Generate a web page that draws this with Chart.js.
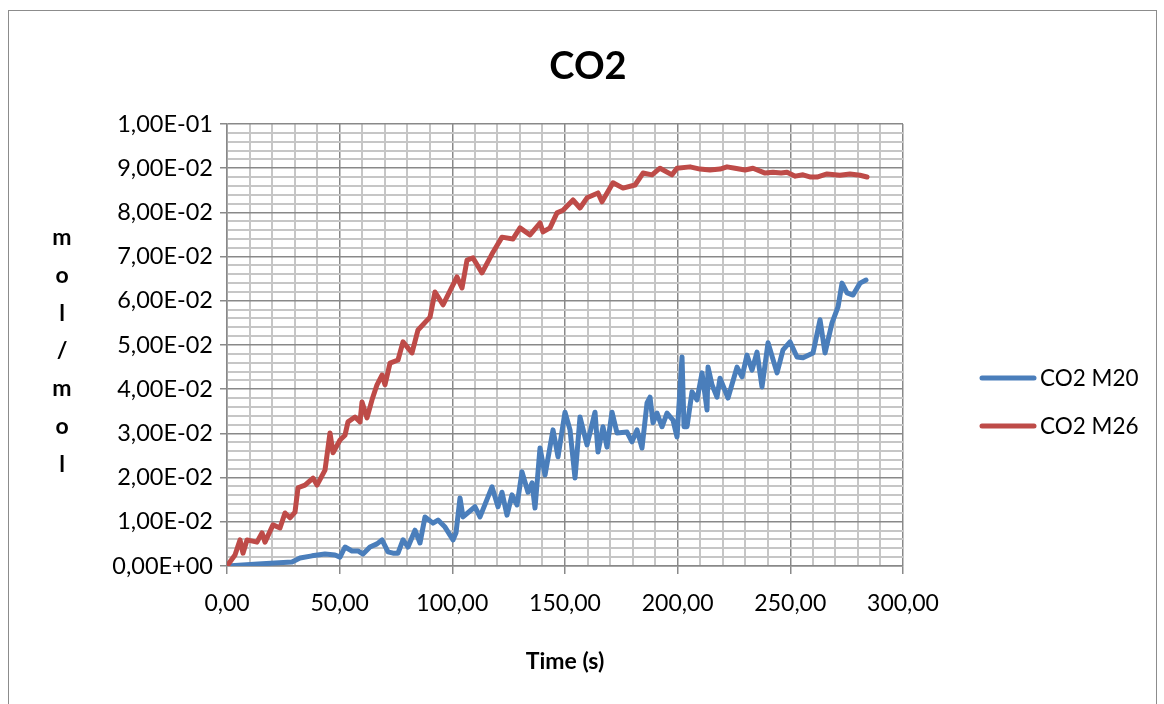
<!DOCTYPE html>
<html>
<head>
<meta charset="utf-8">
<script src="https://cdn.jsdelivr.net/npm/chart.js@4.4.1/dist/chart.umd.min.js"></script>
<style>
  html, body { margin: 0; padding: 0; background: #ffffff; }
  #wrap { width: 1164px; height: 704px; }
</style>
</head>
<body>
<div id="wrap"><canvas id="c" width="1164" height="704"></canvas></div>
<script>
// ---- data ----
const chartTitle = 'CO2';
const xAxisTitle = 'Time (s)';
const yAxisTitle = 'mol/mol';
const seriesNames = ['CO2 M20', 'CO2 M26'];

const m20Time = [0,13.76,28.85,32.40,37.72,43.49,47.93,50.15,52.37,55.47,58.14,60.36,63.46,66.57,68.79,71.45,73.67,75.89,78.11,80.33,83.43,85.65,87.87,91.42,93.64,96.75,100.30,101.63,103.40,104.73,110.06,112.28,117.61,120.27,122.04,124.26,126.48,128.70,130.92,133.58,135.36,136.69,138.91,141.13,144.68,146.90,150.00,152.22,154.44,156.66,159.77,163.32,164.65,166.86,168.64,170.86,173.08,177.52,179.74,181.96,184.18,186.40,187.73,189.06,190.83,193.05,195.27,197.93,199.71,201.93,202.82,204.15,206.37,208.59,210.81,213.03,213.47,215.24,217.46,218.79,222.34,226.34,228.56,230.78,233.00,235.21,237.43,240.10,244.10,246.75,249.86,252.97,255.63,260.07,263.18,265.40,268.50,271.16,272.94,275.16,277.83,280.93,283.59];
const m20Values = [0,0.00045,0.0009,0.0018,0.0023,0.0027,0.0025,0.0020,0.0043,0.0034,0.0034,0.0027,0.0043,0.0050,0.0059,0.0032,0.0029,0.0029,0.0059,0.0043,0.0081,0.0052,0.0111,0.0097,0.0104,0.0088,0.0059,0.0075,0.0154,0.0111,0.0134,0.0111,0.0179,0.0134,0.0167,0.0115,0.0161,0.0138,0.0213,0.0167,0.0188,0.0131,0.0267,0.0206,0.0308,0.0247,0.0348,0.0308,0.0199,0.0337,0.0274,0.0348,0.0258,0.0315,0.0269,0.0348,0.0301,0.0303,0.0281,0.0308,0.0267,0.0369,0.0382,0.0324,0.0346,0.0315,0.0346,0.0330,0.0292,0.0473,0.0315,0.0315,0.0394,0.0376,0.0437,0.0353,0.0450,0.0410,0.0382,0.0425,0.0380,0.0450,0.0428,0.0477,0.0443,0.0484,0.0405,0.0505,0.0437,0.0489,0.0507,0.0473,0.0471,0.0482,0.0557,0.0482,0.0550,0.0586,0.0640,0.0618,0.0613,0.0640,0.0647];

const m26Time = [0,3.55,5.77,7.10,8.88,13.31,15.53,16.86,20.41,23.52,25.74,27.96,30.18,31.51,34.62,38.17,39.94,43.49,45.71,47.04,50.15,52.37,53.70,56.81,59.03,59.92,62.14,64.36,66.57,68.79,70.12,72.34,75.89,78.11,82.10,84.77,90.09,92.31,95.86,102.07,104.29,106.51,109.17,113.17,118.05,122.04,126.93,130.03,134.47,138.91,140.24,143.35,146.45,149.11,153.55,156.66,159.77,164.65,166.42,171.30,175.74,181.07,184.62,188.61,192.16,197.49,199.71,205.5,209.91,214.3,218.79,221.9,225.45,229.9,233.44,238.8,242.31,245.9,248.53,252.2,255.63,259.0,261.84,266.28,272.0,276.48,280.9,284.03];
const m26Values = [0,0.0025,0.0059,0.0029,0.0059,0.0054,0.0075,0.0054,0.0093,0.0086,0.0120,0.0109,0.0122,0.0177,0.0183,0.0199,0.0183,0.0217,0.0301,0.0256,0.0285,0.0296,0.0326,0.0337,0.0326,0.0371,0.0335,0.0376,0.0410,0.0432,0.0410,0.0459,0.0466,0.0507,0.0482,0.0534,0.0563,0.0620,0.0591,0.0654,0.0629,0.0692,0.0697,0.0663,0.0710,0.0744,0.0740,0.0765,0.0749,0.0776,0.0756,0.0765,0.0799,0.0805,0.0828,0.0810,0.0833,0.0844,0.0824,0.0867,0.0855,0.0862,0.0889,0.0885,0.0900,0.0885,0.0900,0.0903,0.0898,0.0896,0.0898,0.0903,0.0900,0.0896,0.0900,0.0889,0.0891,0.0889,0.0891,0.0882,0.0885,0.0880,0.0880,0.0887,0.0884,0.0887,0.0884,0.0880];

const xMin = 0, xMax = 300, xMajor = 50, xMinor = 10;
const yMin = 0, yMax = 0.1, yMajor = 0.01, yMinor = 0.002;

// ---- helpers ----
const FONT = 'Lato, "Open Sans", sans-serif';
const MAJOR_COLOR = '#898989';
const MINOR_COLOR = '#c6c6c6';
const BLUE = '#4a7ebb';
const RED = '#be4b48';

function isMultiple(v, step) {
  const r = v / step;
  return Math.abs(r - Math.round(r)) < 1e-6;
}
function fmtX(v) { return v.toFixed(2).replace('.', ','); }
function fmtSci(v) {
  if (Math.abs(v) < 1e-12) return '0,00E+00';
  let e = Math.floor(Math.log10(Math.abs(v)) + 1e-9);
  let m = v / Math.pow(10, e);
  if (Math.abs(m) >= 9.995) { m /= 10; e += 1; }
  return m.toFixed(2).replace('.', ',') + 'E' + (e < 0 ? '-' : '+') + String(Math.abs(e)).padStart(2, '0');
}
function toPoints(xs, ys) { return xs.map((x, i) => ({ x: x, y: ys[i] })); }

// ---- custom decorations (title, axis titles, legend, outer frame) ----
const decorations = {
  id: 'decorations',
  afterDraw(chart) {
    const ctx = chart.ctx;
    const area = chart.chartArea;
    ctx.save();
    // outer frame
    ctx.strokeStyle = '#8c8c8c';
    ctx.lineWidth = 1;
    ctx.strokeRect(8.5, 10.5, 1148, 720);

    ctx.fillStyle = '#000000';
    // title
    ctx.font = 'bold 38px ' + FONT;
    ctx.textAlign = 'center';
    ctx.textBaseline = 'alphabetic';
    ctx.fillText(chartTitle, 588, 79);

    // x axis title
    ctx.font = 'bold 23px ' + FONT;
    ctx.fillText(xAxisTitle, (area.left + area.right) / 2, 669);

    // y axis title, stacked letters
    const letters = yAxisTitle.split('');
    const y0 = 245, dy = 37.8;
    letters.forEach((ch, i) => ctx.fillText(ch, 62, y0 + i * dy));

    // legend
    const items = chart.data.datasets.map(d => ({ label: d.label, color: d.borderColor }));
    const legY = [378, 426];
    items.forEach((it, i) => {
      ctx.strokeStyle = it.color;
      ctx.lineWidth = 5;
      ctx.lineCap = 'round';
      ctx.beginPath();
      ctx.moveTo(982, legY[i]);
      ctx.lineTo(1034, legY[i]);
      ctx.stroke();
      ctx.fillStyle = '#000000';
      ctx.font = '22.5px ' + FONT;
      ctx.textAlign = 'left';
      ctx.textBaseline = 'middle';
      ctx.fillText(it.label, 1040, legY[i] + 1);
    });
    ctx.restore();
  }
};

Chart.defaults.font.family = FONT;
Chart.defaults.color = '#000000';

new Chart(document.getElementById('c'), {
  type: 'line',
  data: {
    datasets: [
      {
        label: seriesNames[0],
        data: toPoints(m20Time, m20Values),
        borderColor: BLUE,
        backgroundColor: BLUE,
        borderWidth: 5,
        pointRadius: 0,
        tension: 0,
        borderJoinStyle: 'round',
        borderCapStyle: 'round',
        fill: false,
        order: 1
      },
      {
        label: seriesNames[1],
        data: toPoints(m26Time, m26Values),
        borderColor: RED,
        backgroundColor: RED,
        borderWidth: 5,
        pointRadius: 0,
        tension: 0,
        borderJoinStyle: 'round',
        borderCapStyle: 'round',
        fill: false,
        order: 0
      }
    ]
  },
  options: {
    responsive: false,
    animation: false,
    devicePixelRatio: 1,
    layout: { padding: { left: 0, top: 124, right: 261, bottom: 0 } },
    plugins: {
      legend: { display: false },
      title: { display: false },
      tooltip: { enabled: false }
    },
    scales: {
      x: {
        type: 'linear',
        min: xMin,
        max: xMax,
        afterFit(scale) { scale.height = 138; },
        border: { display: true, color: MAJOR_COLOR, width: 1.5 },
        grid: {
          drawTicks: true,
          tickLength: 8,
          color: c => isMultiple(c.tick.value, xMajor) ? MAJOR_COLOR : MINOR_COLOR,
          lineWidth: c => isMultiple(c.tick.value, xMajor) ? 1.5 : 2,
          tickColor: c => isMultiple(c.tick.value, xMajor) ? MAJOR_COLOR : 'rgba(0,0,0,0)',
          tickWidth: 1.5
        },
        ticks: {
          stepSize: xMinor,
          autoSkip: false,
          maxRotation: 0,
          minRotation: 0,
          padding: 16,
          font: { size: 23 },
          color: '#000000',
          callback: v => isMultiple(v, xMajor) ? fmtX(v) : ''
        }
      },
      y: {
        type: 'linear',
        min: yMin,
        max: yMax,
        afterFit(scale) { scale.width = 227; },
        border: { display: true, color: MAJOR_COLOR, width: 1.5 },
        grid: {
          drawTicks: true,
          tickLength: 7,
          color: c => isMultiple(c.tick.value, yMajor) ? MAJOR_COLOR : MINOR_COLOR,
          lineWidth: c => isMultiple(c.tick.value, yMajor) ? 1.5 : 2,
          tickColor: c => isMultiple(c.tick.value, yMajor) ? MAJOR_COLOR : 'rgba(0,0,0,0)',
          tickWidth: 1.5
        },
        ticks: {
          stepSize: yMinor,
          autoSkip: false,
          padding: 7,
          font: { size: 23.5 },
          color: '#000000',
          callback: v => isMultiple(v, yMajor) ? fmtSci(v) : ''
        }
      }
    }
  },
  plugins: [decorations]
});
</script>
</body>
</html>
